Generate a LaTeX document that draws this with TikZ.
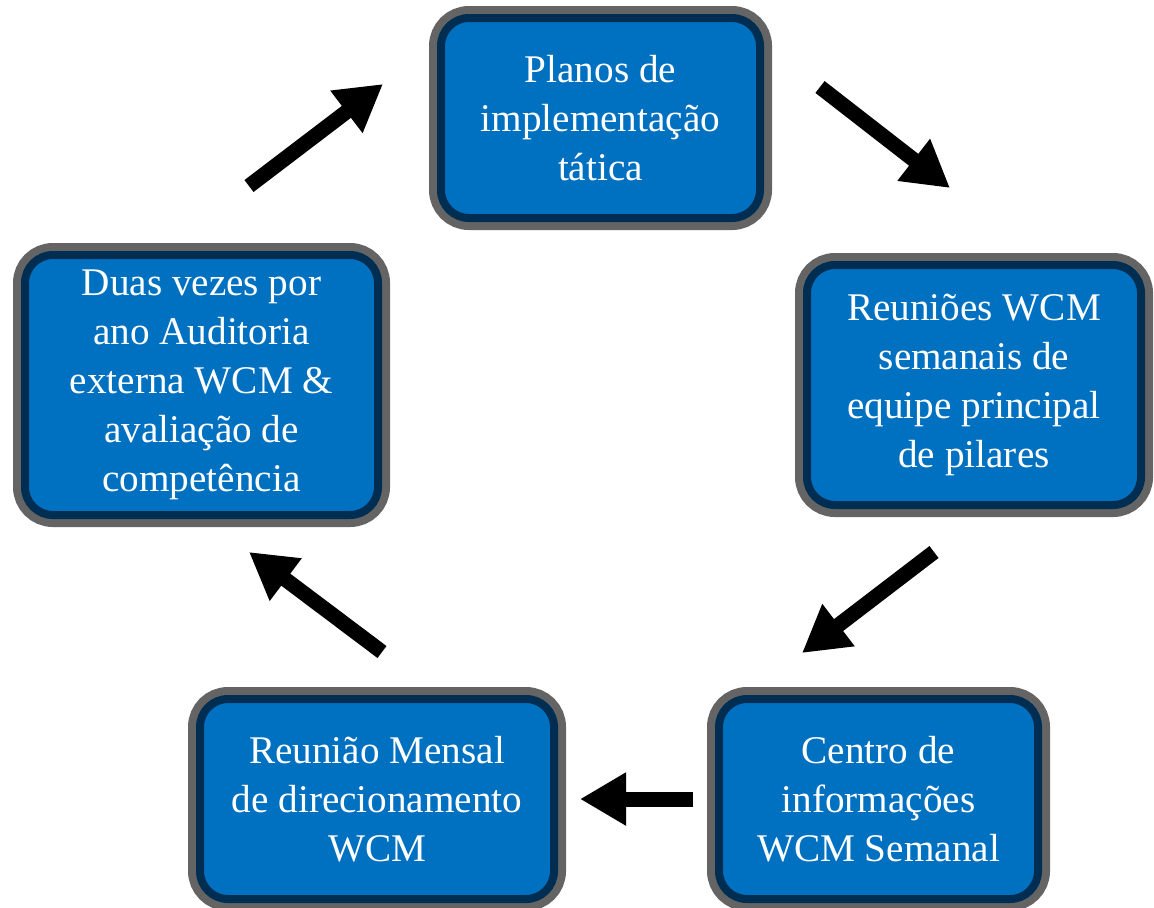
\documentclass[tikz,border=0pt]{standalone}
\usepackage{fontspec}
\setmainfont{Liberation Serif}
\usetikzlibrary{arrows.meta, positioning}

\definecolor{boxblue}{HTML}{0070C0}
\definecolor{boxnavy}{HTML}{002E52}
\definecolor{boxgray}{HTML}{646464}

\begin{document}
\begin{tikzpicture} [x = 0.5pt, y = -0.5pt,
  box/.style = {rectangle, rounded corners = 14pt, fill = boxblue, draw = boxnavy,
    line width = 4pt, preaction = {draw = boxgray, line width = 12pt},
    text = white, align = center, inner sep = 0pt,
    font = \fontsize{19.6}{24.5}\selectfont},
  cycle arrow/.style = {-{Triangle[width = 25pt, length = 23pt]}, line width = 7.5pt}]

\useasboundingbox (0,0) rectangle (1154,907);

\node (plans) [box, minimum width = 159.5pt, minimum height = 100pt] at (600.5,118)
  {Planos de\\implementação\\tática};
\node (weekly) [box, minimum width = 167pt, minimum height = 120pt] at (974,385)
  {Reuniões WCM\\semanais de\\equipe principal\\de pilares};
\node (info) [box, minimum width = 159.5pt, minimum height = 100pt] at (878.5,799)
  {Centro de\\informações\\WCM Semanal};
\node (monthly) [box, minimum width = 177pt, minimum height = 100pt] at (377,799)
  {Reunião Mensal\\de direcionamento\\WCM};
\node (audit) [box, minimum width = 176.5pt, minimum height = 130pt] at (201.5,385)
  {Duas vezes por\\ano Auditoria\\externa WCM \&\\avaliação de\\competência};

% arrow ends between the boxes
\coordinate (audit out) at (249,186);
\coordinate (plans in) at (383,84);
\coordinate (plans out) at (820,87);
\coordinate (weekly in) at (950,188);
\coordinate (weekly out) at (934,552);
\coordinate (info in) at (802,653);
\coordinate (info out) at (693,799);
\coordinate (monthly in) at (580,799);
\coordinate (monthly out) at (382,652);
\coordinate (audit in) at (249,552);

\draw [cycle arrow] (audit out) -- (plans in);
\draw [cycle arrow] (plans out) -- (weekly in);
\draw [cycle arrow] (weekly out) -- (info in);
\draw [cycle arrow] (info out) -- (monthly in);
\draw [cycle arrow] (monthly out) -- (audit in);

\end{tikzpicture}
\end{document}
